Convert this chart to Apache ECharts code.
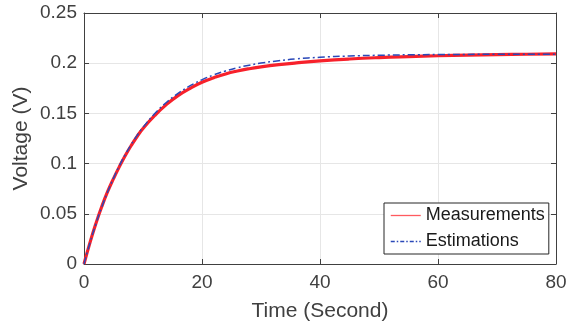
<!DOCTYPE html>
<html>
<head>
<meta charset="utf-8">
<script src="https://cdn.jsdelivr.net/npm/echarts@6/dist/echarts.min.js"></script>
<style>
  html, body { margin: 0; padding: 0; background: #fff; }
  #chart { width: 581px; height: 325px; }
</style>
</head>
<body>
<div id="chart"></div>
<script>
    // values
    var measTime = [0, 1, 2, 3, 4, 5, 6, 7, 8, 9, 10, 12, 14, 16, 18, 20, 22, 24, 26, 28, 30,
        33, 36, 40, 45, 50, 55, 60, 65, 70, 75, 80];
    var measVolt = [0, 0.021, 0.040, 0.057, 0.072, 0.085, 0.097, 0.108, 0.118, 0.127, 0.135,
        0.148, 0.159, 0.168, 0.175, 0.181, 0.1855, 0.1893, 0.1922, 0.1945, 0.1963,
        0.1985, 0.2003, 0.2023, 0.2042, 0.2056, 0.2066, 0.2074, 0.2080, 0.2085, 0.2089, 0.2092];
    var estTime = [0, 1, 2, 3, 4, 5, 6, 7, 8, 9, 10, 12, 14, 16, 18, 20, 22, 24, 26, 28, 30,
        33, 36, 40, 45, 50, 55, 60, 70, 80];
    var estVolt = [0, 0.0209, 0.0397, 0.0566, 0.0718, 0.0855, 0.0979, 0.1090, 0.1190, 0.1280,
        0.1361, 0.1499, 0.1611, 0.1702, 0.1776, 0.1835, 0.1884, 0.1923, 0.1955, 0.1980,
        0.2001, 0.2025, 0.2043, 0.2059, 0.2072, 0.2079, 0.2084, 0.2086, 0.2089, 0.2090];
    var xTicks = [0, 20, 40, 60, 80];
    var yTicks = [0, 0.05, 0.1, 0.15, 0.2, 0.25];

    function pairs(xs, ys) {
        var out = [];
        for (var i = 0; i < xs.length; i++) {
            out.push([xs[i], ys[i]]);
        }
        return out;
    }

    var axisColor = '#404040';
    var redColor = '#f7212b';
    var blueColor = '#2a48b8';
    var font = 'Liberation Sans, Arial, Helvetica, sans-serif';

    function xAxisCfg(pos, show) {
        return {
            type: 'value',
            position: pos,
            min: xTicks[0],
            max: xTicks[xTicks.length - 1],
            interval: 20,
            name: show ? 'Time (Second)' : '',
            nameLocation: 'middle',
            nameGap: 37,
            nameMoveOverlap: false,
            nameTextStyle: { color: axisColor, fontSize: 21, fontFamily: font },
            axisLine: { show: true, onZero: false, lineStyle: { color: axisColor, width: 1 } },
            axisTick: { show: true, inside: true, length: 5, lineStyle: { color: axisColor } },
            axisLabel: { show: show, color: axisColor, fontSize: 19, fontFamily: font, margin: 9 },
            splitLine: { show: show, lineStyle: { color: '#e6e6e6' } }
        };
    }

    function yAxisCfg(pos, show) {
        return {
            type: 'value',
            position: pos,
            min: yTicks[0],
            max: yTicks[yTicks.length - 1],
            interval: 0.05,
            name: show ? 'Voltage (V)' : '',
            nameLocation: 'middle',
            nameGap: 52,
            nameMoveOverlap: false,
            nameTextStyle: { color: axisColor, fontSize: 21, fontFamily: font },
            axisLine: { show: true, onZero: false, lineStyle: { color: axisColor, width: 1 } },
            axisTick: { show: true, inside: true, length: 5, lineStyle: { color: axisColor } },
            axisLabel: { show: show, color: axisColor, fontSize: 19, fontFamily: font, margin: 7 },
            splitLine: { show: show, lineStyle: { color: '#e6e6e6' } }
        };
    }

    var chart = echarts.init(document.getElementById('chart'), null, { renderer: 'canvas' });
    var option = {
        animation: false,
        backgroundColor: '#fff',
        grid: { left: 84, right: 25, top: 13, bottom: 61, containLabel: false, outerBoundsMode: 'none' },
        xAxis: [xAxisCfg('bottom', true), xAxisCfg('top', false)],
        yAxis: [yAxisCfg('left', true), yAxisCfg('right', false)],
        legend: {
            orient: 'vertical',
            left: 384,
            top: 203,
            backgroundColor: '#fff',
            borderColor: '#262626',
            borderWidth: 1,
            borderRadius: 0,
            padding: [3, 4, 3, 6],
            itemWidth: 30,
            itemHeight: 10,
            itemGap: 7,
            itemStyle: { opacity: 0 },
            textStyle: { color: '#1a1a1a', fontSize: 18, fontFamily: font, lineHeight: 19 },
            data: [
                { name: 'Measurements', lineStyle: { color: '#ff5a5f', width: 1.3 } },
                { name: 'Estimations', lineStyle: { color: blueColor, width: 1.5, type: [4, 2, 1.5, 2] } }
            ]
        },
        series: [
            {
                name: 'Measurements',
                type: 'line',
                symbol: 'none',
                smooth: true,
                data: pairs(measTime, measVolt),
                lineStyle: { color: redColor, width: 3.2 },
                itemStyle: { color: redColor }
            },
            {
                name: 'Estimations',
                type: 'line',
                symbol: 'none',
                smooth: true,
                data: pairs(estTime, estVolt),
                lineStyle: { color: blueColor, width: 1.5, type: [7, 3, 2, 3] },
                itemStyle: { color: blueColor }
            }
        ]
    };
    chart.setOption(option);
</script>
</body>
</html>
